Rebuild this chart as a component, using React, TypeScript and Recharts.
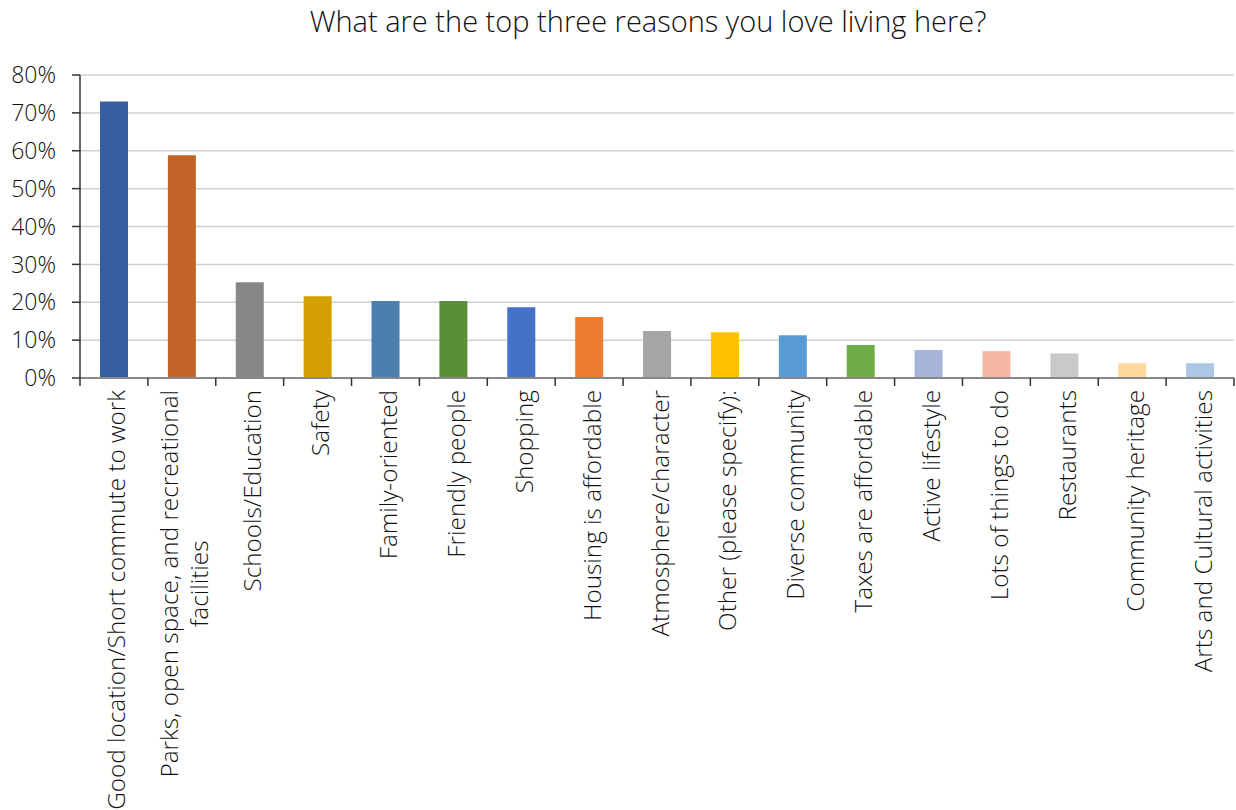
import React from "react";
import { BarChart, Bar, XAxis, YAxis, CartesianGrid, Cell } from "recharts";

const categories = [
  "Good location/Short commute to work",
  "Parks, open space, and recreational facilities",
  "Schools/Education",
  "Safety",
  "Family-oriented",
  "Friendly people",
  "Shopping",
  "Housing is affordable",
  "Atmosphere/character",
  "Other (please specify):",
  "Diverse community",
  "Taxes are affordable",
  "Active lifestyle",
  "Lots of things to do",
  "Restaurants",
  "Community heritage",
  "Arts and Cultural activities",
];

const values = [0.73, 0.588, 0.253, 0.216, 0.203, 0.203, 0.187, 0.161, 0.124, 0.121, 0.113, 0.087, 0.074, 0.071, 0.065, 0.039, 0.039];

const yTicks = [0, 0.1, 0.2, 0.3, 0.4, 0.5, 0.6, 0.7, 0.8];

const palette = [
  "#365F9F", "#C36529", "#878787", "#D49F00", "#4A7FB0", "#5B8E39",
  "#4472C4", "#ED7D31", "#A5A5A5", "#FFC000", "#5B9BD5", "#70AD47",
  "#A6B4D9", "#F4B8A5", "#C9C9C9", "#FFD89B", "#ADC5E7",
];

const data = categories.map((name, i) => ({ name, value: values[i] }));

const W = 1236;
const H = 810;
const M = { top: 75, right: 2, left: 0, bottom: 0 };
const Y_W = 80;
const X_H = 432;
const FONT = "'Open Sans', 'Noto Sans', sans-serif";
const LABEL_SIZE = 24.3;
const TEXT = "#111111";
const BAND = (W - M.left - M.right - Y_W) / categories.length;

let ctx: CanvasRenderingContext2D | null = null;
function measure(text: string): number {
  if (!ctx) {
    const c = document.createElement("canvas");
    ctx = c.getContext("2d");
  }
  if (!ctx) return text.length * LABEL_SIZE * 0.5;
  ctx.font = `300 ${LABEL_SIZE}px 'Open Sans'`;
  return ctx.measureText(text).width;
}

function wrap(text: string, maxW: number): string[] {
  const words = text.split(" ");
  const lines: string[] = [];
  let cur = "";
  for (const w of words) {
    const t = cur ? cur + " " + w : w;
    if (cur && measure(t) > maxW) {
      lines.push(cur);
      cur = w;
    } else cur = t;
  }
  if (cur) lines.push(cur);
  return lines;
}

const XTick = (props: any) => {
  const { x, y, payload, index } = props;
  const lines = wrap(String(payload.value), 440);
  const lh = 30;
  const widths = lines.map(measure);
  const maxW = Math.max(...widths);
  const n = lines.length;
  const isLast = index === categories.length - 1;
  return (
    <g>
      <line x1={x - BAND / 2} x2={x - BAND / 2} y1={y} y2={y + 8} stroke="#333" strokeWidth={1.5} />
      {isLast && (
        <line x1={x + BAND / 2} x2={x + BAND / 2} y1={y} y2={y + 8} stroke="#333" strokeWidth={1.5} />
      )}
      <g transform={`translate(${x + 3},${y + 12}) rotate(-90)`}>
        {lines.map((ln, i) => (
          <text
            key={i}
            x={n > 1 ? -maxW / 2 : 0}
            y={(i - (n - 1) / 2) * lh}
            dy="0.35em"
            textAnchor={n > 1 ? "middle" : "end"}
            fontFamily={FONT}
            fontWeight={300}
            fontSize={LABEL_SIZE}
            fill={TEXT}
          >
            {ln}
          </text>
        ))}
      </g>
    </g>
  );
};

export default function App() {
  return (
    <div style={{ position: "absolute", left: 0, top: 0, width: W, height: H, background: "#fff" }}>
      <div
        style={{
          position: "absolute",
          top: 1,
          left: 0,
          width: W + 60,
          textAlign: "center",
          fontFamily: FONT,
          fontWeight: 300,
          fontSize: 29,
          lineHeight: "40px",
          color: TEXT,
        }}
      >
        What are the top three reasons you love living here?
      </div>
      <BarChart width={W} height={H} data={data} margin={M} barCategoryGap="0%">
        <CartesianGrid vertical={false} stroke="#D0D0D0" strokeWidth={1.5} />
        <XAxis
          dataKey="name"
          interval={0}
          height={X_H}
          tick={<XTick />}
          tickLine={false}
          tickSize={0}
          tickMargin={0}
          axisLine={{ stroke: "#888", strokeWidth: 2 }}
        />
        <YAxis
          width={Y_W}
          domain={[0, 0.8]}
          ticks={yTicks}
          interval={0}
          tickFormatter={(v: number) => `${Math.round(v * 100)}%`}
          tick={{ fontFamily: FONT, fontWeight: 300, fontSize: 23, fill: TEXT }}
          tickSize={8}
          tickMargin={16}
          tickLine={{ stroke: "#333", strokeWidth: 1.5 }}
          axisLine={{ stroke: "#333", strokeWidth: 1.5 }}
        />
        <Bar dataKey="value" barSize={28} isAnimationActive={false}>
          {data.map((d, i) => (
            <Cell key={d.name} fill={palette[i]} />
          ))}
        </Bar>
      </BarChart>
    </div>
  );
}
